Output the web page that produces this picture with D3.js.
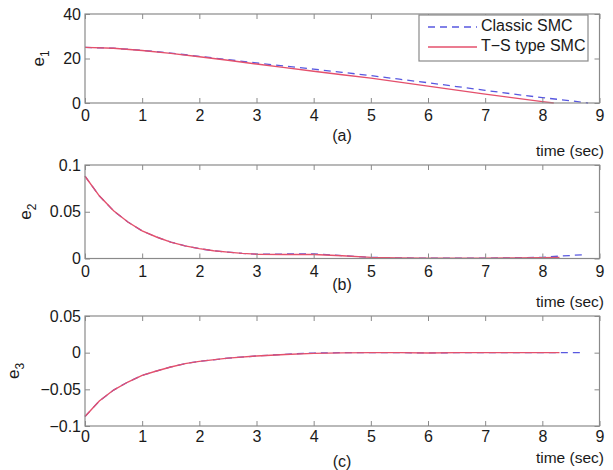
<!DOCTYPE html>
<html><head><meta charset="utf-8">
<script src="https://cdn.jsdelivr.net/npm/d3@7"></script>
<style>
body{margin:0;background:#fff;}
svg{display:block;font-family:"Liberation Sans",Arial,sans-serif;}
</style></head>
<body><svg id="c" width="613" height="470"></svg>
<script>
// ---- data ----
const xTicks = [0,1,2,3,4,5,6,7,8,9];
const seriesNames = ["Classic SMC", "T\u2212S type SMC"];

const e1TimeTS = [0,0.5,1,1.5,2,2.5,3,3.5,4,4.5,5,5.5,6,6.5,7,7.5,8,8.2];
const e1TS     = [25,24.6,23.6,22.3,20.8,19.2,17.5,15.9,14.3,12.7,11.2,9.4,7.6,5.8,4.0,2.3,0.6,0];
const e1TimeCl = [0,0.5,1,1.5,2,2.5,3,3.5,4,4.5,5,5.5,6,6.5,7,7.5,8,8.5,8.8];
const e1Cl     = [25,24.6,23.7,22.4,21.0,19.5,18.0,16.6,15.2,13.8,12.3,10.7,9.1,7.4,5.7,4.0,2.4,1.0,0];
const e1Ticks  = [0,20,40];

const e2TimeTS = [0,0.25,0.5,0.75,1,1.25,1.5,1.75,2,2.25,2.5,2.75,3,3.5,4,4.5,5,5.5,6,6.5,7,7.5,8,8.3];
const e2TS     = [0.088,0.067,0.051,0.039,0.0295,0.023,0.0175,0.0135,0.0105,0.0083,0.0068,0.0055,0.0046,0.0042,0.0042,0.003,0.0012,0.0006,0.0004,0.0003,0.0003,0.0005,0.0009,0.001];
const e2TimeCl = [0,0.25,0.5,0.75,1,1.25,1.5,1.75,2,2.25,2.5,2.75,3,3.5,4,4.5,5,5.5,6,6.5,7,7.5,8,8.3,8.7];
const e2Cl     = [0.088,0.067,0.051,0.039,0.0295,0.023,0.0175,0.0135,0.0105,0.0083,0.0068,0.0055,0.0046,0.0048,0.005,0.003,0.0012,0.0006,0.0004,0.0003,0.0004,0.0008,0.0013,0.0025,0.004];
const e2Ticks  = [0,0.05,0.1];

const e3TimeTS = [0,0.25,0.5,0.75,1,1.25,1.5,1.75,2,2.5,3,3.5,4,4.5,5,5.5,6,6.5,7,7.5,8,8.3];
const e3TS     = [-0.087,-0.066,-0.051,-0.04,-0.031,-0.025,-0.0195,-0.015,-0.0118,-0.0075,-0.0045,-0.0025,-0.001,-0.0003,0,0,-0.0005,0,0,0,0,0];
const e3TimeCl = [0,0.25,0.5,0.75,1,1.25,1.5,1.75,2,2.5,3,3.5,4,4.5,5,5.5,6,6.5,7,7.5,8,8.3,8.7];
const e3Cl     = [-0.087,-0.066,-0.051,-0.04,-0.031,-0.025,-0.0195,-0.015,-0.0118,-0.0075,-0.0045,-0.0022,-0.0005,0,0,0,-0.0004,0,0,0,0,0,0];
const e3Ticks  = [-0.1,-0.05,0,0.05];

// ---- layout ----
const svg = d3.select("#c");
const X0 = 85, X1 = 599.5;
const blue = "#5858e0", red = "#e4506c", boxCol = "#8a8a8a", txt = "#1a1a1a";
const FS = "16px";

const panels = [
  {top:14, bottom:103, dom:[0,40], ticks:e1Ticks, fmt:d=>d, sub:"1", labX:44, tag:"(a)", tagY:137, timeY:152, pad:7,
   cl:[e1TimeCl,e1Cl], ts:[e1TimeTS,e1TS], legend:true},
  {top:165, bottom:258.5, dom:[0,0.1], ticks:e2Ticks, fmt:d=>d===0?"0":String(d), sub:"2", labX:31, tag:"(b)", tagY:286, timeY:303, pad:7,
   cl:[e2TimeCl,e2Cl], ts:[e2TimeTS,e2TS]},
  {top:316, bottom:426, dom:[-0.1,0.05], ticks:e3Ticks, fmt:d=>d===0?"0":String(d).replace("-","\u2212"), sub:"3", labX:19, tag:"(c)", tagY:463, timeY:459, pad:5,
   cl:[e3TimeCl,e3Cl], ts:[e3TimeTS,e3TS]}
];

const x = d3.scaleLinear().domain([0,9]).range([X0,X1]);

panels.forEach(p => {
  const y = d3.scaleLinear().domain(p.dom).range([p.bottom,p.top]);
  const g = svg.append("g");
  const line = d3.line().x(d=>x(d[0])).y(d=>y(d[1]));
  const zip = (a,b)=>a.map((t,i)=>[t,b[i]]);

  g.append("path").datum(zip(...p.cl)).attr("d",line)
    .attr("fill","none").attr("stroke",blue).attr("stroke-width",1.3).attr("stroke-dasharray","7,5");
  g.append("path").datum(zip(...p.ts)).attr("d",line)
    .attr("fill","none").attr("stroke",red).attr("stroke-width",1.4);

  // axes (MATLAB box style, inward ticks)
  const xb = g.append("g").attr("transform",`translate(0,${p.bottom})`)
    .call(d3.axisBottom(x).tickValues(xTicks).tickSizeInner(-5).tickSizeOuter(0).tickPadding(p.pad));
  const xt = g.append("g").attr("transform",`translate(0,${p.top})`)
    .call(d3.axisTop(x).tickValues(xTicks).tickSizeInner(-5).tickSizeOuter(0).tickFormat(""));
  const yl = g.append("g").attr("transform",`translate(${X0},0)`)
    .call(d3.axisLeft(y).tickValues(p.ticks).tickSizeInner(-5).tickSizeOuter(0).tickPadding(4).tickFormat(p.fmt));
  const yr = g.append("g").attr("transform",`translate(${X1},0)`)
    .call(d3.axisRight(y).tickValues(p.ticks).tickSizeInner(-5).tickSizeOuter(0).tickFormat(""));
  [xb,xt,yl,yr].forEach(a=>{
    a.select(".domain").remove();
    a.selectAll("line").attr("stroke",boxCol);
    a.selectAll("text").attr("fill",txt).style("font-size",FS).style("font-family",'"Liberation Sans",Arial,sans-serif');
  });
  g.append("rect").attr("x",X0).attr("y",p.top).attr("width",X1-X0).attr("height",p.bottom-p.top)
    .attr("fill","none").attr("stroke",boxCol).attr("stroke-width",1.2);

  // y label
  const yt = g.append("text").attr("transform",`translate(${p.labX},${(p.top+p.bottom)/2}) rotate(-90)`)
    .attr("text-anchor","middle").attr("fill",txt).style("font-size","17px");
  yt.append("tspan").text("e");
  yt.append("tspan").attr("dy",5).style("font-size","12px").text(p.sub);

  g.append("text").attr("x",342).attr("y",p.tagY).attr("text-anchor","middle").attr("dominant-baseline","middle")
    .attr("fill",txt).style("font-size",FS).text(p.tag);
  g.append("text").attr("x",604).attr("y",p.timeY).attr("text-anchor","end").attr("dominant-baseline","middle")
    .attr("fill",txt).style("font-size","15.5px").text("time (sec)");

  if (p.legend) {
    const lg = g.append("g");
    lg.append("rect").attr("x",419).attr("y",p.top+1).attr("width",169).attr("height",46)
      .attr("fill","#fff").attr("stroke",boxCol).attr("stroke-width",1.2);
    const items = [{name:seriesNames[0],col:blue,dash:"7,5",dy:13},{name:seriesNames[1],col:red,dash:null,dy:33}];
    items.forEach(it=>{
      lg.append("line").attr("x1",428).attr("x2",477).attr("y1",p.top+it.dy).attr("y2",p.top+it.dy)
        .attr("stroke",it.col).attr("stroke-width",1.4).attr("stroke-dasharray",it.dash);
      lg.append("text").attr("x",481).attr("y",p.top+it.dy).attr("dominant-baseline","middle")
        .attr("fill",txt).style("font-size",FS).text(it.name);
    });
  }
});
</script></body></html>
